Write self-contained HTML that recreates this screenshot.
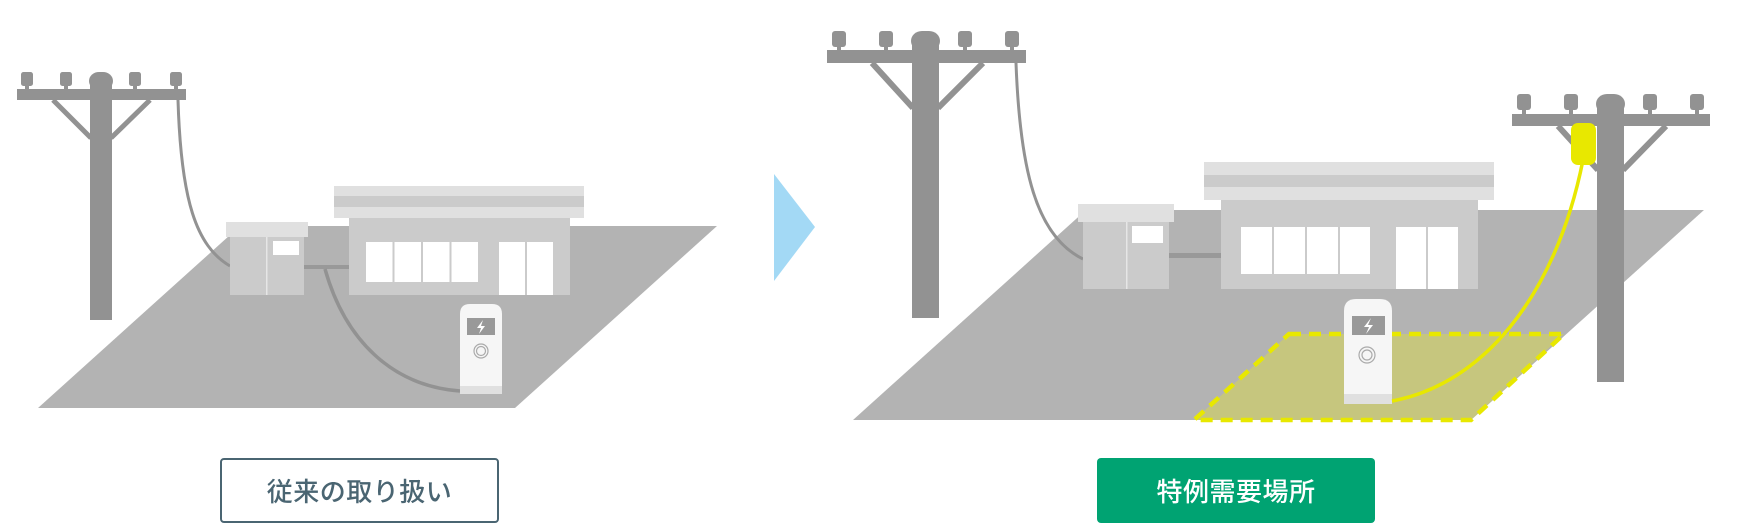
<!DOCTYPE html>
<html><head><meta charset="utf-8"><style>
html,body{margin:0;padding:0;background:#fff;width:1760px;height:528px;overflow:hidden}
.btn{position:absolute;box-sizing:border-box;display:flex;align-items:center;justify-content:center;font-family:"Liberation Sans","Noto Sans CJK JP",sans-serif;font-size:26px;font-weight:500;border-radius:4px;letter-spacing:0.5px}
</style></head><body>
<svg width="1760" height="528" style="position:absolute;left:0;top:0">
<!-- LEFT SCENE -->
<polygon points="240,226 717,226 515,408 38,408" fill="#b3b3b3"/>
<g fill="#929292">
<rect x="90" y="78" width="22" height="242"/>
<rect x="89" y="72" width="24" height="18" rx="10"/>
<rect x="17" y="89" width="169" height="11"/>
<rect x="21" y="72" width="12" height="14" rx="2.5"/><rect x="60" y="72" width="12" height="14" rx="2.5"/>
<rect x="129" y="72" width="12" height="14" rx="2.5"/><rect x="170" y="72" width="12" height="14" rx="2.5"/>
<rect x="25" y="84" width="4" height="6"/><rect x="64" y="84" width="4" height="6"/>
<rect x="133" y="84" width="4" height="6"/><rect x="174" y="84" width="4" height="6"/>
</g>
<path d="M53,100 L91,138 M150,100 L111,138" stroke="#929292" stroke-width="5"/>
<path d="M178,100 C181,200 196,246 230,266" fill="none" stroke="#929292" stroke-width="3"/>
<rect x="226" y="222" width="82" height="15" fill="#e0e0e0"/>
<rect x="230" y="237" width="74" height="58" fill="#cbcbcb"/>
<rect x="266" y="237" width="1.5" height="58" fill="#e6e6e6"/>
<rect x="273" y="241" width="26" height="14" fill="#fff"/>
<rect x="304" y="265" width="45" height="4" fill="#999"/>
<rect x="334" y="186" width="250" height="10" fill="#e0e0e0"/>
<rect x="334" y="196" width="250" height="11" fill="#cbcbcb"/>
<rect x="334" y="207" width="250" height="11" fill="#e0e0e0"/>
<rect x="349" y="218" width="221" height="77" fill="#cbcbcb"/>
<g fill="#fff">
<rect x="366" y="242" width="26.5" height="40"/><rect x="394.5" y="242" width="26.5" height="40"/>
<rect x="423" y="242" width="26.5" height="40"/><rect x="451.5" y="242" width="26.5" height="40"/>
<rect x="499" y="242" width="26" height="53"/><rect x="527" y="242" width="26" height="53"/>
</g>
<path d="M325,269 C345,340 392,386 460,391" fill="none" stroke="#929292" stroke-width="3.5"/>
<path d="M460,394 L460,314 Q460,304 470,304 L492,304 Q502,304 502,314 L502,394 Z" fill="#f6f6f6"/>
<rect x="460" y="386" width="42" height="8" fill="#e0e0e0"/>
<rect x="467" y="318" width="28" height="17" fill="#999"/>
<path d="M483,320 L477,328 L481,328 L479,334 L485,326 L481,326 Z" fill="#fff"/>
<circle cx="481" cy="351" r="7" fill="none" stroke="#aaa" stroke-width="1.2"/>
<circle cx="481" cy="351" r="4.5" fill="none" stroke="#aaa" stroke-width="1.2"/>
<polygon points="774,174 815,227 774,281" fill="#a3d9f5"/>

<!-- RIGHT SCENE -->
<polygon points="1086,210 1704,210 1471,420 853,420" fill="#b3b3b3"/>
<polygon points="1289,334 1564,334 1471,420 1194,420" fill="#c6c67e"/>
<polygon points="1289,334 1564,334 1471,420 1194,420" fill="none" stroke="#e8e800" stroke-width="4.5" stroke-dasharray="12,8"/>
<g fill="#929292">
<rect x="912" y="37" width="27" height="281"/>
<rect x="911" y="31" width="29" height="20" rx="11"/>
<rect x="827" y="50" width="199" height="13"/>
<rect x="832" y="31" width="14" height="16" rx="3"/><rect x="879" y="31" width="14" height="16" rx="3"/>
<rect x="958" y="31" width="14" height="16" rx="3"/><rect x="1005" y="31" width="14" height="16" rx="3"/>
<rect x="837" y="45" width="4" height="6"/><rect x="884" y="45" width="4" height="6"/>
<rect x="963" y="45" width="4" height="6"/><rect x="1010" y="45" width="4" height="6"/>
</g>
<path d="M872,63 L913,108 M983,63 L938,108" stroke="#929292" stroke-width="6"/>
<path d="M1016,63 C1020,170 1036,236 1083,259" fill="none" stroke="#929292" stroke-width="3"/>
<g fill="#929292">
<rect x="1597" y="100" width="27" height="282"/>
<rect x="1596" y="94" width="29" height="20" rx="11"/>
<rect x="1512" y="114" width="198" height="12"/>
<rect x="1517" y="94" width="14" height="16" rx="3"/><rect x="1564" y="94" width="14" height="16" rx="3"/>
<rect x="1643" y="94" width="14" height="16" rx="3"/><rect x="1690" y="94" width="14" height="16" rx="3"/>
<rect x="1522" y="108" width="4" height="6"/><rect x="1569" y="108" width="4" height="6"/>
<rect x="1648" y="108" width="4" height="6"/><rect x="1695" y="108" width="4" height="6"/>
</g>
<path d="M1558,126 L1598,170 M1666,126 L1623,170" stroke="#929292" stroke-width="6"/>
<rect x="1078" y="204" width="96" height="18" fill="#e0e0e0"/>
<rect x="1083" y="222" width="86" height="67" fill="#cbcbcb"/>
<rect x="1126" y="222" width="1.5" height="67" fill="#e6e6e6"/>
<rect x="1132" y="226" width="31" height="17" fill="#fff"/>
<rect x="1169" y="253" width="52" height="5" fill="#999"/>
<rect x="1204" y="162" width="290" height="13" fill="#e0e0e0"/>
<rect x="1204" y="175" width="290" height="12" fill="#cbcbcb"/>
<rect x="1204" y="187" width="290" height="13" fill="#e0e0e0"/>
<rect x="1221" y="200" width="257" height="89" fill="#cbcbcb"/>
<g fill="#fff">
<rect x="1241" y="227" width="31" height="47"/><rect x="1274" y="227" width="31" height="47"/>
<rect x="1307" y="227" width="31" height="47"/><rect x="1340" y="227" width="30" height="47"/>
<rect x="1396" y="227" width="30" height="62"/><rect x="1428" y="227" width="30" height="62"/>
</g>
<path d="M1344,404 L1344,311 Q1344,299 1356,299 L1380,299 Q1392,299 1392,311 L1392,404 Z" fill="#f6f6f6"/>
<rect x="1344" y="394" width="48" height="10" fill="#e0e0e0"/>
<rect x="1352" y="316" width="33" height="19" fill="#999"/>
<path d="M1371,318 L1364,327 L1369,327 L1366,334 L1373,325 L1368,325 Z" fill="#fff"/>
<circle cx="1367" cy="355" r="8" fill="none" stroke="#aaa" stroke-width="1.2"/>
<circle cx="1367" cy="355" r="5" fill="none" stroke="#aaa" stroke-width="1.2"/>
<path d="M1583,160 C1555,300 1480,385 1392,401" fill="none" stroke="#e8e800" stroke-width="3.5"/>
<rect x="1571" y="123" width="25" height="42" rx="7" fill="#e8e800"/>
</svg>
<div class="btn" style="left:220px;top:458px;width:279px;height:65px;border:2px solid #4a6572;color:#4a6572;">従来の取り扱い</div>
<div class="btn" style="left:1097px;top:458px;width:278px;height:65px;background:#00a372;color:#fff;">特例需要場所</div>
</body></html>
